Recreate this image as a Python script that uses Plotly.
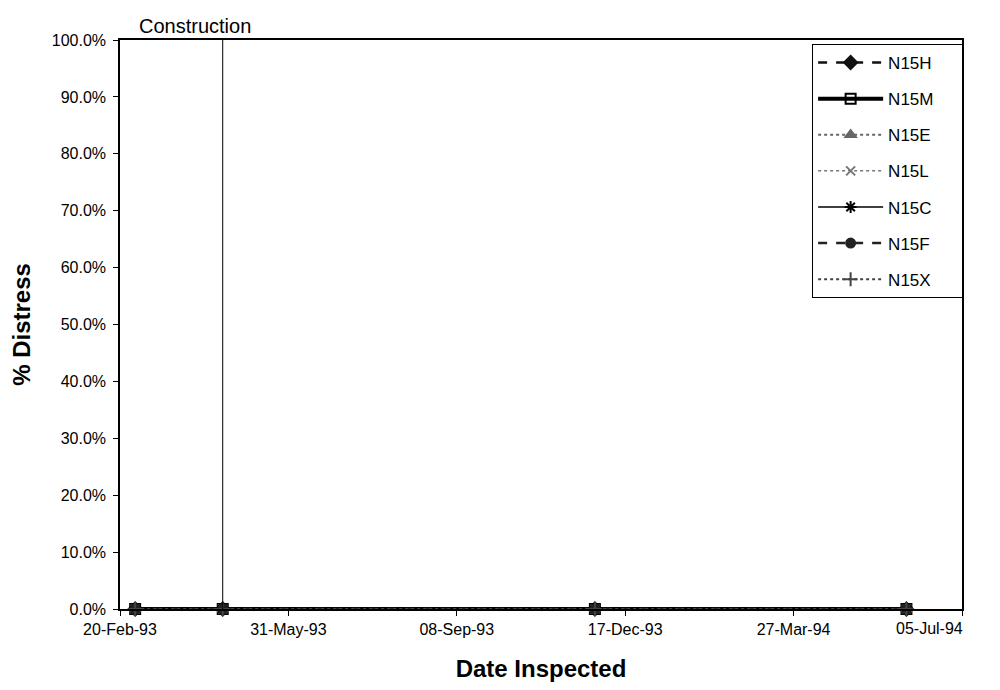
import plotly.graph_objects as go

# inspection dates and % distress per section
dates = ["1993-03-01", "1993-04-22", "1993-11-29", "1994-06-02"]
series_names = ["N15H", "N15M", "N15E", "N15L", "N15C", "N15F", "N15X"]
n15h = [0.0, 0.0, 0.0, 0.0]
n15m = [0.0, 0.0, 0.0, 0.0]
n15e = [0.0, 0.0, 0.0, 0.0]
n15l = [0.0, 0.0, 0.0, 0.0]
n15c = [0.0, 0.0, 0.0, 0.0]
n15f = [0.0, 0.0, 0.0, 0.0]
n15x = [0.0, 0.0, 0.0, 0.0]
series_values = [n15h, n15m, n15e, n15l, n15c, n15f, n15x]

construction_date = "1993-04-22"
x_range = ["1993-02-20", "1994-07-05"]
x_tickvals = ["1993-02-20", "1993-05-31", "1993-09-08", "1993-12-17", "1994-03-27", "1994-07-05"]
x_ticktext = ["20-Feb-93", "31-May-93", "08-Sep-93", "17-Dec-93", "27-Mar-94", "05-Jul-94"]

styles = [
    dict(dash="dash", width=2.5, symbol="diamond", msize=10, color="#111"),
    dict(dash="solid", width=4, symbol="square-open", msize=10, color="#000"),
    dict(dash="dot", width=2, symbol="triangle-up", msize=9, color="#666"),
    dict(dash="dot", width=1.5, symbol="x-thin-open", msize=9, color="#777"),
    dict(dash="solid", width=1.5, symbol="asterisk-open", msize=10, color="#000"),
    dict(dash="dash", width=2.5, symbol="circle", msize=9, color="#222"),
    dict(dash="dot", width=2, symbol="cross-thin-open", msize=10, color="#444"),
]

fig = go.Figure()
for name, vals, st in zip(series_names, series_values, styles):
    fig.add_trace(go.Scatter(
        x=dates, y=vals, name=name + "\u00a0" * 5, mode="lines+markers", legendgroup=name,
        cliponaxis=False,
        line=dict(color=st["color"], width=st["width"], dash=st["dash"]),
        marker=dict(symbol=st["symbol"], size=st["msize"], color=st["color"],
                    line=dict(color=st["color"], width=2)),
    ))

# construction marker
fig.add_shape(type="line", x0=construction_date, x1=construction_date, y0=0, y1=1,
              xref="x", yref="y", line=dict(color="black", width=1))
fig.add_annotation(x=x_range[0], y=1, xref="x", yref="y", text="Construction",
                   showarrow=False, xanchor="left", yanchor="bottom", xshift=17, yshift=1,
                   font=dict(size=20, color="black"))

# last date label sits inside the right edge, as in the original
fig.add_annotation(x=x_tickvals[-1], y=0, xref="x", yref="y", text=x_ticktext[-1],
                   showarrow=False, xanchor="right", yanchor="top", xshift=3, yshift=-9,
                   font=dict(size=16, color="black"))

fig.update_layout(
    width=984, height=674,
    margin=dict(l=112, r=30, t=32, b=73, autoexpand=False),
    plot_bgcolor="white", paper_bgcolor="white",
    font=dict(family="Liberation Sans, Arial, sans-serif", color="black", size=16),
    legend=dict(x=0.822, y=0.993, xanchor="left", yanchor="top",
                bordercolor="black", borderwidth=1, bgcolor="white",
                font=dict(size=17), tracegroupgap=11, itemwidth=65),
)
fig.update_xaxes(
    type="date", range=x_range, tickvals=x_tickvals,
    ticktext=x_ticktext[:-1] + [""], ticks="outside", ticklen=5, tickcolor="black",
    showline=True, linecolor="black", linewidth=1.5, mirror=True, showgrid=False,
    automargin=False,
    title=dict(text="<b>Date Inspected</b>", font=dict(size=24), standoff=26),
)
fig.update_yaxes(
    range=[0, 1], dtick=0.1, tickformat=".1%", ticks="outside", ticklen=5,
    tickcolor="black", showline=True, linecolor="black", linewidth=1.5,
    mirror=True, showgrid=False, zeroline=False, automargin=False,
    ticklabelstandoff=4,
    title=dict(text="<b>% Distress</b>", font=dict(size=24), standoff=18),
)

fig.write_html("out.html")
